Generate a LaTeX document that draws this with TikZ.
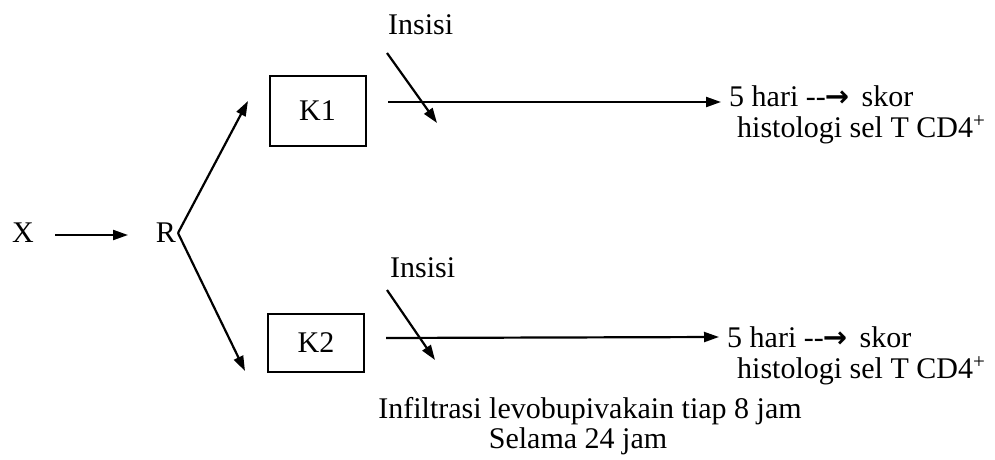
\documentclass[tikz,border=0pt]{standalone}
\usepackage{fontspec}
\setmainfont{Liberation Serif}[Ligatures=NoCommon]
\newfontfamily\arrfont{DejaVu Sans}[BoldFont={DejaVu Sans Bold}]
\usetikzlibrary{arrows.meta}
\newcommand{\myarr}{-{}-\kern-1pt{\arrfont\bfseries\fontsize{29}{30}\selectfont →}}
\begin{document}
\begin{tikzpicture}[x=1pt,y=-1pt,
  txt/.style={inner sep=0pt,anchor=base west,font=\fontsize{30}{34}\selectfont},
  ctxt/.style={inner sep=0pt,anchor=base,font=\fontsize{30}{34}\selectfont},
  boxk/.style={draw,line width=2pt,minimum width=96pt,inner sep=0pt,font=\fontsize{30}{34}\selectfont},
  arr/.style={line width=2.2pt,-{Triangle[length=15pt,width=10pt]}},
  ln/.style={line width=2.2pt}]
\useasboundingbox (0,0) rectangle (995,460);
% nodes
\node[ctxt] (X) at (23,242) {X};
\node[ctxt] (R) at (166,242) {R};
\node[boxk,minimum height=70pt] (K1) at (317.5,111) {K1};
\node[boxk,minimum height=58pt] (K2) at (316,343) {K2};
\node[txt] (ins1) at (388,35) {Insisi};
\node[txt] (ins2) at (390,277) {Insisi};
\node[txt,text depth=0pt] (t1a) at (729,106) {5 hari \myarr\ \,skor};
\node[txt,text height=20pt] (t1b) at (737,137) {histologi sel T CD4\textsuperscript{+}};
\node[txt,text depth=0pt] (t2a) at (727,347) {5 hari \myarr\ \,skor};
\node[txt,text height=20pt] (t2b) at (737,378) {histologi sel T CD4\textsuperscript{+}};
\node[ctxt,text depth=0pt] (inf1) at (590,418) {Infiltrasi levobupivakain tiap 8 jam};
\node[ctxt,text height=20pt] (inf2) at (578,448) {Selama 24 jam};
% coordinates
\coordinate (xs) at (55,235);
\coordinate (xe) at (128,235);
\coordinate (rs) at (178,233);
\coordinate (up) at (248,101);
\coordinate (dn) at (245,371);
\coordinate (a1s) at (387,53);
\coordinate (a1e) at (437,123);
\coordinate (a2s) at (387,290);
\coordinate (a2e) at (435,360);
\coordinate (l1s) at (388,102);
\coordinate (l1e) at (721,102);
\coordinate (l2s) at (386,338);
\coordinate (l2e) at (719,337);
% connectors
\draw[arr] (xs) -- (xe);
\draw[arr] (rs) -- (up);
\draw[arr] (rs) -- (dn);
\draw[arr] (a1s) -- (a1e);
\draw[arr] (a2s) -- (a2e);
\draw[arr] (l1s) -- (l1e);
\draw[arr] (l2s) -- (l2e);
\end{tikzpicture}
\end{document}
